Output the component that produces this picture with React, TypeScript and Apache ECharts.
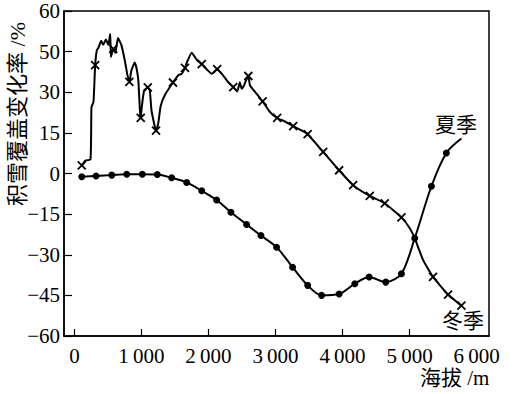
import React, { useEffect, useRef } from "react";
import * as echarts from "echarts";

// Altitude (m) and snow-cover change rate (%) — winter curve (× markers)
const winterAlt = [110, 165, 240, 255, 285, 310, 335, 360, 400, 430, 470, 505, 535, 545, 580, 610, 650, 700, 750, 790, 820, 850, 900, 930, 955, 978, 990, 1005, 1040, 1095, 1125, 1150, 1190, 1218, 1250, 1288, 1350, 1470, 1550, 1600, 1650, 1670, 1750, 1825, 1900, 1975, 2050, 2130, 2200, 2295, 2370, 2430, 2468, 2495, 2530, 2560, 2595, 2620, 2720, 2808, 2917, 3025, 3140, 3264, 3389, 3480, 3711, 3949, 4158, 4407, 4630, 4879, 5003, 5077, 5201, 5350, 5574, 5773];
const winterRate = [3.0, 4.8, 5.2, 24.5, 26.5, 40, 45.5, 46.5, 49, 47.5, 49.5, 47.5, 51.5, 43, 46, 44.5, 50, 47.5, 42, 36.5, 33.8, 38, 41, 38.5, 34, 23, 20.5, 24.5, 30.6, 31.8, 30.6, 23.3, 18.4, 15.8, 18.4, 25, 29, 33.6, 36.3, 36.8, 39, 40.5, 44.6, 42, 40.4, 38.4, 36.8, 38.5, 36.8, 33.7, 31.9, 30.3, 33.7, 31.3, 32.5, 34.3, 36, 32.5, 29.4, 26.6, 22.7, 20.5, 19.2, 17.5, 15.9, 14.5, 8, 1.2, -4.3, -8.3, -11, -16.2, -20.2, -23.9, -31.9, -38.2, -44.7, -48.8];
const winterMarkedAlt = [110, 310, 580, 820, 990, 1095, 1218, 1470, 1650, 1900, 2130, 2370, 2595, 2808, 3025, 3264, 3480, 3711, 3949, 4158, 4407, 4630, 4879, 5350, 5574, 5773];

// Summer curve (● markers)
const summerAlt = [110, 323, 557, 781, 1013, 1237, 1451, 1675, 1899, 2122, 2335, 2569, 2783, 3016, 3255, 3480, 3687, 3949, 4183, 4397, 4645, 4879, 5077, 5326, 5549, 5773];
const summerRate = [-1.2, -0.9, -0.6, -0.3, -0.3, -0.4, -1.6, -3.3, -6.4, -9.8, -14.3, -18.8, -22.9, -27.2, -34.6, -41.3, -45, -44.5, -40.7, -38.2, -40.1, -37, -23.9, -4.7, 7.6, 12.9];
const summerUnmarkedAlt = [5773];

// Axis ticks and labels
const xTickValues = [0, 1000, 2000, 3000, 4000, 5000];
const xLabelValues = [0, 1000, 2000, 3000, 4000, 5000, 6000];
const xLabelTexts = ["0", "1\u2009000", "2\u2009000", "3\u2009000", "4\u2009000", "5\u2009000", "6\u2009000"];
const yTickValues = [-60, -45, -30, -15, 0, 15, 30, 45, 60];
const yLabelTexts = ["\u221260", "\u221245", "\u221230", "\u221215", "0", "15", "30", "50", "60"];

const yAxisTitle = "积雪覆盖变化率 /%";
const xAxisTitle = "海拔 /m";
const summerName = "夏季";
const winterName = "冬季";

const FONT = "'Liberation Serif', 'Noto Sans CJK SC', serif";
const CROSS = "path://M0,0L10,10M10,0L0,10";

export default function App() {
  const ref = useRef<HTMLDivElement>(null);
  useEffect(() => {
    if (!ref.current) return;
    const chart = echarts.init(ref.current, null, { renderer: "svg" });
    const winterData = winterAlt.map((a, i) => ({
      value: [a, winterRate[i]],
      symbol: winterMarkedAlt.includes(a) ? CROSS : "none",
    }));
    const summerData = summerAlt.map((a, i) => ({
      value: [a, summerRate[i]],
      symbol: summerUnmarkedAlt.includes(a) ? "none" : "circle",
    }));
    chart.setOption({
      animation: false,
      backgroundColor: "#fff",
      grid: {
        left: 64,
        top: 11,
        right: 38,
        bottom: 58,
        show: true,
        borderColor: "#000",
        borderWidth: 1.5,
        backgroundColor: "transparent",
      },
      xAxis: {
        type: "value",
        min: -155,
        max: 6185,
        axisLine: { show: true, onZero: false, lineStyle: { color: "#000", width: 1.5 } },
        axisTick: {
          show: true,
          inside: true,
          length: 7,
          customValues: xTickValues,
          lineStyle: { color: "#000", width: 1.2 },
        },
        axisLabel: {
          customValues: xLabelValues,
          formatter: (v: number) => xLabelTexts[xLabelValues.indexOf(v)] ?? "",
          color: "#000",
          fontFamily: FONT,
          fontSize: 21,
          margin: 9,
        },
        splitLine: { show: false },
      },
      yAxis: {
        type: "value",
        min: -60,
        max: 60,
        interval: 15,
        axisLine: { show: true, onZero: false, lineStyle: { color: "#000", width: 1.5 } },
        axisTick: {
          show: true,
          inside: true,
          length: 8,
          lineStyle: { color: "#000", width: 1.2 },
        },
        axisLabel: {
          formatter: (v: number) => yLabelTexts[yTickValues.indexOf(v)] ?? "",
          color: "#000",
          fontFamily: FONT,
          fontSize: 21,
          margin: 4,
        },
        splitLine: { show: false },
      },
      series: [
        {
          type: "line",
          name: winterName,
          data: winterData,
          smooth: 0.15,
          showAllSymbol: true,
          symbolSize: 8,
          lineStyle: { color: "#000", width: 2 },
          itemStyle: { color: "#000", borderColor: "#000", borderWidth: 1.8 },
        },
        {
          type: "line",
          name: summerName,
          data: summerData,
          smooth: 0.3,
          showAllSymbol: true,
          symbolSize: 7,
          lineStyle: { color: "#000", width: 2 },
          itemStyle: { color: "#000", borderColor: "#000", borderWidth: 0 },
        },
      ],
      graphic: [
        {
          type: "text",
          x: 17,
          y: 114,
          rotation: Math.PI / 2,
          style: {
            text: yAxisTitle,
            font: `22px ${FONT}`,
            fill: "#000",
            align: "center",
            verticalAlign: "middle",
          },
        },
        {
          type: "text",
          x: 420,
          y: 378,
          style: {
            text: xAxisTitle,
            font: `21px ${FONT}`,
            fill: "#000",
            align: "left",
            verticalAlign: "middle",
          },
        },
        {
          type: "text",
          x: 435,
          y: 125,
          style: {
            text: summerName,
            font: `21px ${FONT}`,
            fill: "#000",
            align: "left",
            verticalAlign: "middle",
          },
        },
        {
          type: "text",
          x: 442,
          y: 321,
          style: {
            text: winterName,
            font: `21px ${FONT}`,
            fill: "#000",
            align: "left",
            verticalAlign: "middle",
          },
        },
      ],
    });
    return () => chart.dispose();
  }, []);
  return (
    <div
      ref={ref}
      style={{ position: "fixed", left: 0, top: 0, width: 527, height: 394, background: "#fff" }}
    />
  );
}
